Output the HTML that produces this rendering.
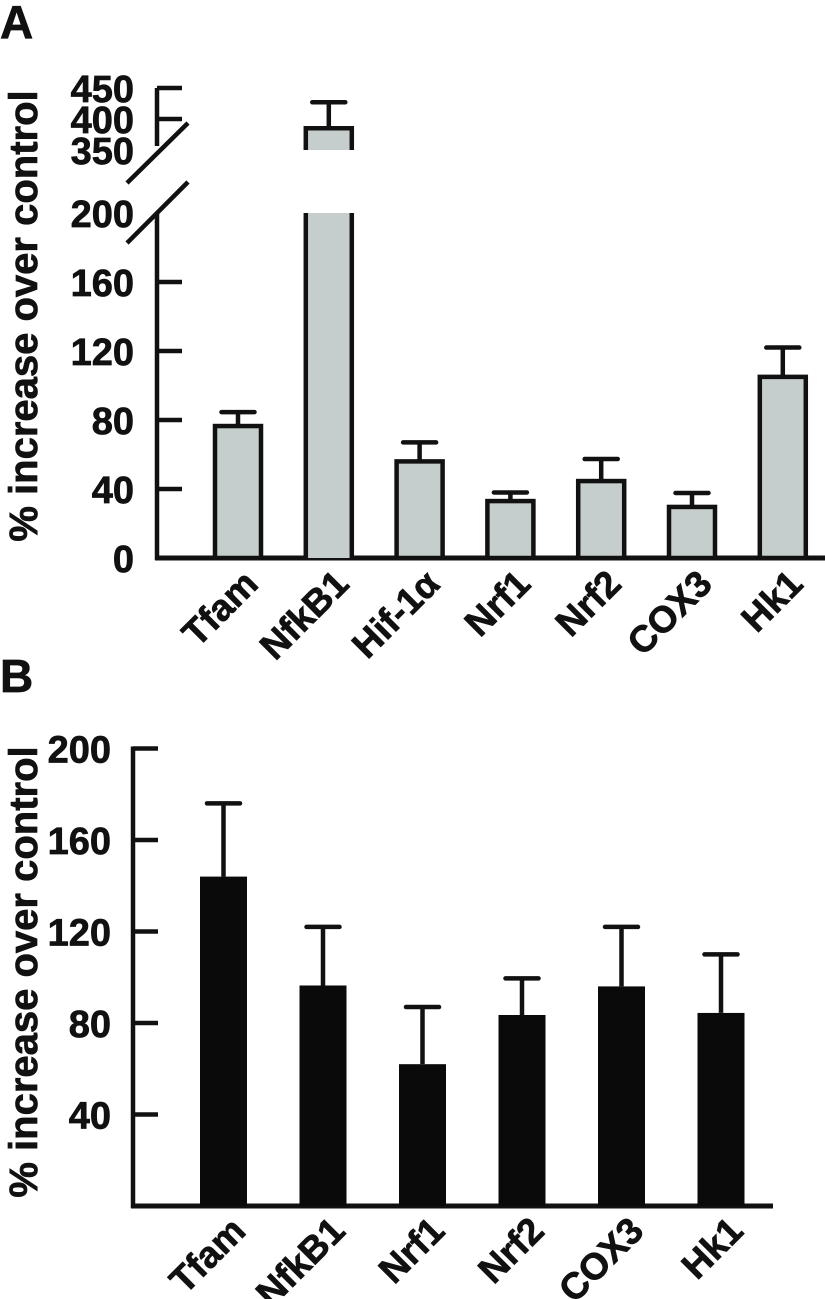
<!DOCTYPE html>
<html><head><meta charset="utf-8"><style>
html,body{margin:0;padding:0;background:#fff;}
svg{display:block;font-family:"Liberation Sans",Arial,sans-serif;font-weight:bold;}
text{stroke:#111;stroke-width:0.7px;}
</style></head><body>
<svg id="chart" width="825" height="1299" viewBox="0 0 825 1299" xmlns="http://www.w3.org/2000/svg">
<text x="0" y="38" font-size="46" fill="#111">A</text>
<text x="0" y="692" font-size="46" fill="#111">B</text>
<text transform="translate(37,316) rotate(-90)" text-anchor="middle" font-size="40" fill="#111">% increase over control</text>
<text transform="translate(37,972) rotate(-90)" text-anchor="middle" font-size="40" fill="#111">% increase over control</text>
<g id="ga"></g>
<g id="gb"></g>
</svg>
<script>
const catsA = ["Tfam","NfkB1","Hif-1\u03b1","Nrf1","Nrf2","COX3","Hk1"];
const valsA = [76.5, 385, 56, 33, 44.6, 29.6, 105];
const errA = [84.6, 427, 67, 38, 57.4, 37.7, 122];
const ticksLowA = [0, 40, 80, 120, 160, 200];
const ticksHighA = [350, 400, 450];
const catsB = ["Tfam","NfkB1","Nrf1","Nrf2","COX3","Hk1"];
const valsB = [144, 96.4, 62, 83.5, 96, 84.4];
const errB = [176, 122, 87, 99.5, 122, 110];
const ticksB = [40, 80, 120, 160, 200];

const NS = "http://www.w3.org/2000/svg";
function mk(parent, tag, attrs, text) {
  const e = document.createElementNS(NS, tag);
  for (const k in attrs) e.setAttribute(k, attrs[k]);
  if (text !== undefined) e.textContent = text;
  parent.appendChild(e);
  return e;
}
const INK = "#111";
const SW = 4.5;

/* ---------- Panel A ---------- */
const ga = document.getElementById("ga");
const A0 = 558, AX = 157, AXEND = 825;
function yLow(v) { return A0 - v * 1.725; }
function yHigh(v) { return 119 - (v - 400) * 0.62; }
function yA(v) { return v <= 200 ? yLow(v) : yHigh(v); }
function xA(i) { return 238 + i * 90.8; }
const bwA = 46, capA = 33;

let ln = mk(ga, "line", {x1: AX, y1: yLow(200), x2: AX, y2: A0 + 2, stroke: INK, "stroke-width": SW});


ln = mk(ga, "line", {x1: AX, y1: yHigh(450), x2: AX, y2: 146, stroke: INK, "stroke-width": SW});


ln = mk(ga, "line", {x1: AX - 2, y1: A0, x2: AXEND, y2: A0, stroke: INK, "stroke-width": SW + 0.5});


ln = mk(ga, "line", {x1: 127, y1: 183, x2: 188, y2: 123, stroke: INK, "stroke-width": SW});


ln = mk(ga, "line", {x1: 127, y1: 243, x2: 188, y2: 182, stroke: INK, "stroke-width": SW});



ticksLowA.forEach(t => {
  const y = yLow(t);
  if (t > 0 && t < 200) {
    const tk = mk(ga, "line", {x1: AX, y1: y, x2: AX + 25, y2: y, stroke: INK, "stroke-width": SW});
    
    
  }
  const lb = mk(ga, "text", {x: 134, y: y + 14, "text-anchor": "end", "font-size": 38, fill: INK}, String(t));
  
  
});
ticksHighA.forEach(t => {
  const y = yHigh(t);
  if (t >= 400) {
    const tk = mk(ga, "line", {x1: AX, y1: y, x2: AX + 25, y2: y, stroke: INK, "stroke-width": SW});
    
    
  }
  const lb = mk(ga, "text", {x: 134, y: y + 14, "text-anchor": "end", "font-size": 38, fill: INK}, String(t));
  
  
});

catsA.forEach((c, i) => {
  const cx = xA(i), l = cx - bwA / 2, r = cx + bwA / 2;
  const v = valsA[i], e = errA[i];
  const g = mk(ga, "g", {});
  
  
  if (v <= 200) {
    const top = yA(v);
    mk(g, "rect", {x: l, y: top, width: bwA, height: A0 - top, fill: "#c5cecd", stroke: INK, "stroke-width": SW});
  } else {
    const t2 = yLow(200);
    mk(g, "rect", {x: l, y: t2, width: bwA, height: A0 - t2, fill: "#c5cecd"});
    mk(g, "line", {x1: l, y1: t2, x2: l, y2: A0, stroke: INK, "stroke-width": SW});
    mk(g, "line", {x1: r, y1: t2, x2: r, y2: A0, stroke: INK, "stroke-width": SW});
    const top = yHigh(v), b = yHigh(350);
    mk(g, "rect", {x: l, y: top, width: bwA, height: b - top, fill: "#c5cecd"});
    mk(g, "polyline", {points: `${l},${b} ${l},${top} ${r},${top} ${r},${b}`, fill: "none", stroke: INK, "stroke-width": SW});
  }
  const yt = yA(v), ye = yA(e);
  mk(g, "line", {x1: cx, y1: yt, x2: cx, y2: ye, stroke: INK, "stroke-width": SW});
  mk(g, "line", {x1: cx - capA / 2, y1: ye, x2: cx + capA / 2, y2: ye, stroke: INK, "stroke-width": SW, "stroke-linecap": "round"});
  const lb = mk(ga, "text", {transform: `translate(${cx + 22},${A0 + 28}) rotate(-45)`, "text-anchor": "end", "font-size": 37, fill: INK}, c);
  
  
});

/* ---------- Panel B ---------- */
const gb = document.getElementById("gb");
const B0 = 1206, BX = 133, BXEND = 773;
function yB(v) { return B0 - v * 2.2875; }
function xB(i) { return 223.5 + i * 99.5; }
const bwB = 47, capB = 33;

ln = mk(gb, "line", {x1: BX, y1: yB(200) - 2, x2: BX, y2: B0 + 2, stroke: INK, "stroke-width": SW});


ln = mk(gb, "line", {x1: BX - 2, y1: B0, x2: BXEND, y2: B0, stroke: INK, "stroke-width": SW + 0.5});


ticksB.forEach(t => {
  const y = yB(t);
  const tk = mk(gb, "line", {x1: BX, y1: y, x2: BX + 25, y2: y, stroke: INK, "stroke-width": SW});
  
  
  const lb = mk(gb, "text", {x: 111, y: y + 14, "text-anchor": "end", "font-size": 38, fill: INK}, String(t));
  
  
});
catsB.forEach((c, i) => {
  const cx = xB(i), v = valsB[i], e = errB[i];
  const g = mk(gb, "g", {});
  
  
  const top = yB(v), ye = yB(e);
  mk(g, "rect", {x: cx - bwB / 2, y: top, width: bwB, height: B0 - top, fill: "#0a0a0a"});
  mk(g, "line", {x1: cx, y1: top, x2: cx, y2: ye, stroke: INK, "stroke-width": SW});
  mk(g, "line", {x1: cx - capB / 2, y1: ye, x2: cx + capB / 2, y2: ye, stroke: INK, "stroke-width": SW, "stroke-linecap": "round"});
  const lb = mk(gb, "text", {transform: `translate(${cx + 24},${B0 + 27}) rotate(-45)`, "text-anchor": "end", "font-size": 37, fill: INK}, c);
  
  
});
</script>
</body></html>
